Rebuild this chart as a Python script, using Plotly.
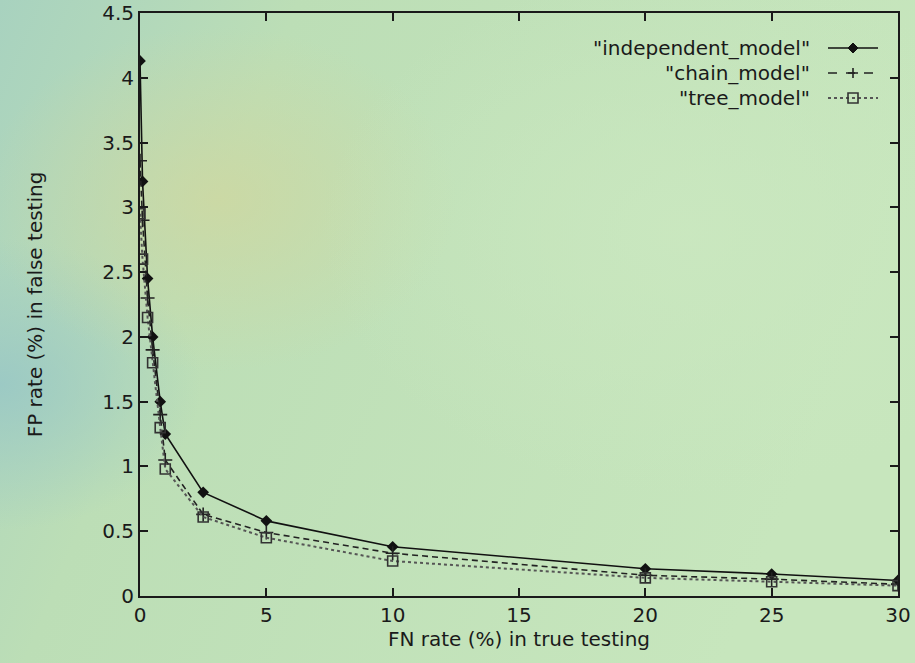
import base64
import plotly.graph_objects as go

# ---------------- data ----------------
fn_rate = [0, 0.1, 0.3, 0.5, 0.8, 1, 2.5, 5, 10, 20, 25, 30]
independent_fp = [4.13, 3.2, 2.45, 2.0, 1.5, 1.25, 0.80, 0.58, 0.38, 0.21, 0.17, 0.12]
chain_fp = [3.36, 2.9, 2.3, 1.9, 1.4, 1.05, 0.63, 0.49, 0.33, 0.16, 0.13, 0.09]
tree_fp = [2.95, 2.6, 2.15, 1.8, 1.3, 0.98, 0.61, 0.45, 0.27, 0.14, 0.11, 0.08]
series_names = ['"independent_model"', '"chain_model"', '"tree_model"']
x_ticks = [0, 5, 10, 15, 20, 25, 30]
y_ticks = [0, 0.5, 1, 1.5, 2, 2.5, 3, 3.5, 4, 4.5]
y_tick_text = ["0", "0.5", "1", "1.5", "2", "2.5", "3", "3.5", "4", "4.5"]

W, H = 915, 663
L, R, T, B = 140, 17, 13, 67
PW, PH = W - L - R, H - T - B

FONT = "DejaVu Sans, Liberation Sans, sans-serif"
FS = 20
INK = "#1a1a1a"

# ---------------- background (soft green/teal/yellow gradient) ----------------
svg = f'''<svg xmlns="http://www.w3.org/2000/svg" width="{W}" height="{H}">
<defs>
<linearGradient id="g" x1="0" y1="0" x2="1" y2="0.3">
<stop offset="0" stop-color="#a8d2bf"/>
<stop offset="0.3" stop-color="#bcdeb6"/>
<stop offset="1" stop-color="#c7e6bd"/>
</linearGradient>
<radialGradient id="y" cx="0.24" cy="0.3" r="0.26">
<stop offset="0" stop-color="#d0d79f" stop-opacity="0.75"/>
<stop offset="1" stop-color="#d0d79f" stop-opacity="0"/>
</radialGradient>
<radialGradient id="t" cx="0.0" cy="0.58" r="0.22">
<stop offset="0" stop-color="#98c7c6" stop-opacity="0.85"/>
<stop offset="1" stop-color="#98c7c6" stop-opacity="0"/>
</radialGradient>
<radialGradient id="c" cx="0.75" cy="0.35" r="0.4">
<stop offset="0" stop-color="#cbe8c0" stop-opacity="0.8"/>
<stop offset="1" stop-color="#cbe8c0" stop-opacity="0"/>
</radialGradient>
</defs>
<rect width="{W}" height="{H}" fill="url(#g)"/>
<rect width="{W}" height="{H}" fill="url(#t)"/>
<rect width="{W}" height="{H}" fill="url(#y)"/>
<rect width="{W}" height="{H}" fill="url(#c)"/>
</svg>'''
bg_src = "data:image/svg+xml;base64," + base64.b64encode(svg.encode()).decode()

fig = go.Figure()

fig.add_trace(go.Scatter(
    x=fn_rate, y=independent_fp, mode="lines+markers", name=series_names[0],
    line=dict(color="#111111", width=1.6),
    marker=dict(symbol="diamond", size=9, color="#111111"),
    showlegend=False,
))
fig.add_trace(go.Scatter(
    x=fn_rate, y=chain_fp, mode="lines+markers", name=series_names[1],
    line=dict(color="#222222", width=1.6, dash="6px,4px"),
    marker=dict(symbol="cross-thin", size=10, color="#222222",
                line=dict(color="#222222", width=1.6)),
    showlegend=False,
))
fig.add_trace(go.Scatter(
    x=fn_rate, y=tree_fp, mode="lines+markers", name=series_names[2],
    line=dict(color="#555555", width=2, dash="3px,3px"),
    marker=dict(symbol="square-open", size=10, color="#333333",
                line=dict(color="#333333", width=1.6)),
    showlegend=False,
))

# ---------------- gnuplot-style key (text right-aligned, sample to the right) ----------------
def px_x(p):
    return (p - L) / PW

def px_y(p):
    return (H - B - p) / PH

key_rows = [48, 73, 98]
text_right = 812
sample_l, sample_r = 828, 878
sample_c = (sample_l + sample_r) / 2
shapes = []
annotations = []
styles = [
    dict(color="#111111", width=1.6, dash="solid"),
    dict(color="#222222", width=1.6, dash="dash"),
    dict(color="#555555", width=2, dash="dot"),
]
for i, (name, row) in enumerate(zip(series_names, key_rows)):
    annotations.append(dict(
        text=name, x=px_x(text_right), y=px_y(row), xref="paper", yref="paper",
        xanchor="right", yanchor="middle", showarrow=False,
        font=dict(family=FONT, size=FS, color=INK),
    ))
    shapes.append(dict(
        type="line", xref="paper", yref="paper",
        x0=px_x(sample_l), x1=px_x(sample_r), y0=px_y(row), y1=px_y(row),
        line=styles[i],
    ))
cx = px_x(sample_c)
shapes.append(dict(type="path", xref="paper", yref="paper", xsizemode="pixel", ysizemode="pixel",
                   xanchor=cx, yanchor=px_y(key_rows[0]),
                   path="M 0 5 L 5 0 L 0 -5 L -5 0 Z", fillcolor="#111111",
                   line=dict(color="#111111", width=1)))
shapes.append(dict(type="path", xref="paper", yref="paper", xsizemode="pixel", ysizemode="pixel",
                   xanchor=cx, yanchor=px_y(key_rows[1]),
                   path="M -5 0 L 5 0 M 0 -5 L 0 5",
                   line=dict(color="#222222", width=1.6)))
shapes.append(dict(type="path", xref="paper", yref="paper", xsizemode="pixel", ysizemode="pixel",
                   xanchor=cx, yanchor=px_y(key_rows[2]),
                   path="M -5 -5 L 5 -5 L 5 5 L -5 5 Z", fillcolor="rgba(0,0,0,0)",
                   line=dict(color="#333333", width=1.6)))

axis_common = dict(
    showgrid=False, zeroline=False, showline=True, linecolor=INK, linewidth=2,
    mirror="allticks", ticks="inside", ticklen=8, tickwidth=1.5, tickcolor=INK,
    tickfont=dict(family=FONT, size=FS, color=INK), automargin=False,
)

fig.update_layout(
    width=W, height=H,
    margin=dict(l=L, r=R, t=T, b=B),
    paper_bgcolor="#bddfb7",
    plot_bgcolor="rgba(0,0,0,0)",
    font=dict(family=FONT, size=FS, color=INK),
    xaxis=dict(range=[0, 30], tickvals=x_ticks, ticktext=[str(v) for v in x_ticks],
               title=dict(text="FN rate (%) in true testing", standoff=6,
                          font=dict(family=FONT, size=FS, color=INK)),
               **axis_common),
    yaxis=dict(range=[0, 4.5], tickvals=y_ticks, ticktext=y_tick_text,
               title=dict(text="FP rate (%) in false testing", standoff=54,
                          font=dict(family=FONT, size=FS, color=INK)),
               **axis_common),
    images=[dict(source=bg_src, xref="paper", yref="paper",
                 x=-L / PW, y=1 + T / PH, sizex=W / PW, sizey=H / PH,
                 xanchor="left", yanchor="top", sizing="stretch", layer="below")],
    shapes=shapes,
    annotations=annotations,
    showlegend=False,
)

fig.write_html(
    "out.html",
    config={"displayModeBar": False},
    post_script="document.body.style.margin='0';document.body.style.overflow='hidden';",
)
